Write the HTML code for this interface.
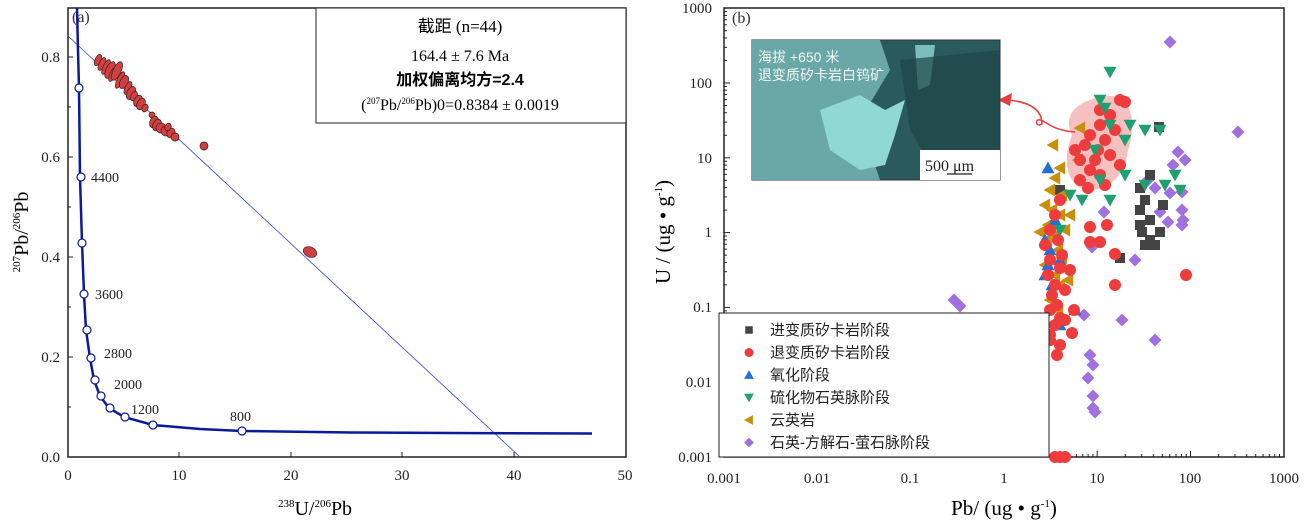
<!DOCTYPE html>
<html><head><meta charset="utf-8"><style>
body{margin:0;background:#fff;}
svg{display:block;font-family:"Liberation Serif","Noto Serif CJK SC",serif;}
.cj{font-family:"Liberation Sans","Noto Sans CJK SC",sans-serif;}
</style></head><body>
<svg id="s" width="1306" height="521" viewBox="0 0 1306 521" xmlns="http://www.w3.org/2000/svg">
<!-- Panel a -->
<rect x="68" y="8" width="558" height="449" fill="none" stroke="#222" stroke-width="1.5"/>
<line x1="68" y1="36" x2="520" y2="457" stroke="#3344cc" stroke-width="0.8"/>
<polyline fill="none" stroke="#0a1a9a" stroke-width="2.5" points="77,8 78,50 79,88 80,177 82,243 84,294 86,330 90,358 94,380 100,396 109,408 124,417 153,425 200,429 242,431 350,432.5 450,433 592,433.5"/>
<g fill="#fff" stroke="#0a1a9a" stroke-width="1.2">
<circle cx="79" cy="88" r="4"/><circle cx="81" cy="177" r="4"/><circle cx="82" cy="243" r="4"/><circle cx="84" cy="294" r="4"/><circle cx="87" cy="330" r="4"/><circle cx="91" cy="358" r="4"/><circle cx="95" cy="380" r="4"/><circle cx="101" cy="396" r="4"/><circle cx="110" cy="408" r="4"/><circle cx="125" cy="417" r="4"/><circle cx="153" cy="425" r="4"/><circle cx="242" cy="431" r="4"/>
</g>
<g font-size="14" fill="#222">
<text x="91" y="182">4400</text><text x="95" y="299">3600</text><text x="104" y="358">2800</text><text x="114" y="389">2000</text><text x="131" y="414">1200</text><text x="230" y="421">800</text>
</g>
<g id="ell" fill="#d04040" stroke="#402020" stroke-width="0.7"></g>
<text x="72" y="22" font-size="16" fill="#333">(a)</text>
<rect x="316" y="8" width="310" height="115" fill="#fff" stroke="#222" stroke-width="1"/>
<text x="460" y="32" font-size="17" text-anchor="middle"><tspan class="cj">截距</tspan> (n=44)</text>
<text x="460" y="61" font-size="16" text-anchor="middle">164.4 ± 7.6 Ma</text>
<text x="460" y="85" font-size="16" text-anchor="middle" class="cj" font-weight="bold">加权偏离均方=2.4</text>
<text x="460" y="110" font-size="16" text-anchor="middle">(<tspan font-size="9" dy="-6">207</tspan><tspan dy="6">Pb/</tspan><tspan font-size="9" dy="-6">206</tspan><tspan dy="6">Pb)0=0.8384 ± 0.0019</tspan></text>
<g font-size="15" fill="#222" text-anchor="end">
<text x="60" y="462">0.0</text><text x="60" y="362">0.2</text><text x="60" y="262">0.4</text><text x="60" y="162">0.6</text><text x="60" y="62">0.8</text>
</g>
<g stroke="#222" stroke-width="1">
<line x1="68" y1="357" x2="73" y2="357"/><line x1="68" y1="257" x2="73" y2="257"/><line x1="68" y1="157" x2="73" y2="157"/><line x1="68" y1="57" x2="73" y2="57"/>
<line x1="68" y1="407" x2="71" y2="407"/><line x1="68" y1="307" x2="71" y2="307"/><line x1="68" y1="207" x2="71" y2="207"/><line x1="68" y1="107" x2="71" y2="107"/>
<line x1="179" y1="457" x2="179" y2="452"/><line x1="291" y1="457" x2="291" y2="452"/><line x1="402" y1="457" x2="402" y2="452"/><line x1="514" y1="457" x2="514" y2="452"/>
</g>
<g font-size="15" fill="#222" text-anchor="middle">
<text x="68" y="480">0</text><text x="179" y="480">10</text><text x="291" y="480">20</text><text x="402" y="480">30</text><text x="514" y="480">40</text><text x="625" y="480">50</text>
</g>
<text x="315" y="515" font-size="20" text-anchor="middle"><tspan font-size="11" dy="-8">238</tspan><tspan dy="8">U/</tspan><tspan font-size="11" dy="-8">206</tspan><tspan dy="8">Pb</tspan></text>
<text transform="translate(28,232) rotate(-90)" font-size="20" text-anchor="middle"><tspan font-size="11" dy="-8">207</tspan><tspan dy="8">Pb/</tspan><tspan font-size="11" dy="-8">206</tspan><tspan dy="8">Pb</tspan></text>

<!-- Panel b -->
<rect x="724" y="8" width="560" height="449" fill="none" stroke="#222" stroke-width="1.5"/>
<g id="ticks" stroke="#222" stroke-width="1"></g>
<g font-size="15" fill="#222" text-anchor="end">
<text x="712" y="13">1000</text><text x="712" y="88">100</text><text x="712" y="163">10</text><text x="712" y="237">1</text><text x="712" y="312">0.1</text><text x="712" y="387">0.01</text><text x="712" y="462">0.001</text>
</g>
<g font-size="15" fill="#222" text-anchor="middle">
<text x="724" y="483">0.001</text><text x="817" y="483">0.01</text><text x="910" y="483">0.1</text><text x="1004" y="483">1</text><text x="1097" y="483">10</text><text x="1190" y="483">100</text><text x="1284" y="483">1000</text>
</g>
<text x="1004" y="515" font-size="21" text-anchor="middle">Pb/ (ug • g<tspan font-size="11" dy="-8">-1</tspan><tspan dy="8">)</tspan></text>
<text transform="translate(670,232) rotate(-90)" font-size="21" text-anchor="middle">U / (ug • g<tspan font-size="11" dy="-8">-1</tspan><tspan dy="8">)</tspan></text>
<text x="732" y="23" font-size="16" fill="#333">(b)</text>
<path d="M1072,135 C1060,110 1085,98 1110,96 C1135,95 1135,130 1128,150 C1125,175 1110,190 1090,190 C1070,190 1060,165 1072,135Z" fill="#f4b0b0" opacity="0.8"/>
<path d="M1075,132 C1050,130 1045,120 1040,120 C1035,118 1035,128 1042,124 C1042,110 1030,102 1008,100" fill="none" stroke="#e04040" stroke-width="1.5"/>
<polygon points="998,100 1012,93 1010,106" fill="#e04040"/>
<g id="pts"></g>
<rect x="752" y="40" width="248" height="140" fill="#2a5a5c" stroke="#333" stroke-width="1"/>
<path d="M752,40 L880,40 L890,70 L860,120 L880,180 L752,180Z" fill="#6aa8a8"/>
<path d="M820,110 L860,95 L885,110 L905,100 L895,135 L885,165 L860,170 L830,150Z" fill="#90d8d4"/>
<path d="M915,45 L935,45 L930,85 L918,90Z" fill="#90d8d4" opacity="0.8"/>
<path d="M900,60 L1000,50 L1000,180 L940,180 L910,130Z" fill="#1e4446" opacity="0.7"/>
<text x="758" y="62" font-size="14" fill="#f0f8f8" class="cj">海拔 +650 米</text>
<text x="758" y="80" font-size="14" fill="#f0f8f8" class="cj">退变质矽卡岩白钨矿</text>
<rect x="920" y="150" width="80" height="30" fill="#fff"/>
<text x="925" y="171" font-size="16" fill="#222">500 μm</text>
<line x1="947" y1="174" x2="972" y2="174" stroke="#222" stroke-width="1.2"/>
<rect x="719" y="313" width="330" height="144" fill="#fff" stroke="#222" stroke-width="1"/>
<g id="leg" class="cj" font-size="15" fill="#222"></g>
</svg>
<script>
var NS="http://www.w3.org/2000/svg";
function el(p,t,a){var e=document.createElementNS(NS,t);for(var k in a)e.setAttribute(k,a[k]);p.appendChild(e);return e;}
var E=document.getElementById("ell");
var ep=[[98,60,3,6],[102,64,3,7],[106,67,3,8],[110,70,4,9],[113,74,3,8],[117,71,4,10],[120,80,3,9],[124,82,4,7],[128,88,3,7],[131,93,4,7],[134,96,3,5],[138,101,4,6],[141,104,4,6],[145,108,3,4],[152,115,3,3],[154,122,4,6],[157,125,4,6],[161,128,5,5],[166,131,5,5],[171,133,4,5],[175,137,4,4],[168,127,3,4],[204,146,4,4],[310,252,7,5]];
ep.forEach(function(p){var x=p[0],y=p[1];el(E,"ellipse",{cx:x,cy:y,rx:p[2],ry:p[3],transform:"rotate(25 "+x+" "+y+")"});});
var T=document.getElementById("ticks");
for(var d=0;d<6;d++)for(var m=1;m<10;m++){var x=724+93.3*(d+Math.log10(m));var L=m==1?6:3;el(T,"line",{x1:x,y1:457,x2:x,y2:457-L});var y=457-74.8*(d+Math.log10(m));el(T,"line",{x1:724,y1:y,x2:724+L,y2:y});}
var P=document.getElementById("pts");
function mk(g,t,x,y,c){var s=6.5;var pts;
 if(t=="s")return el(g,"rect",{x:x-5,y:y-5,width:10,height:10,fill:c});
 if(t=="c")return el(g,"circle",{cx:x,cy:y,r:6,fill:c});
 if(t=="u")pts=[[x,y-s],[x+s,y+s*0.8],[x-s,y+s*0.8]];
 if(t=="d")pts=[[x,y+s],[x+s,y-s*0.8],[x-s,y-s*0.8]];
 if(t=="l")pts=[[x-s,y],[x+s*0.8,y-s],[x+s*0.8,y+s]];
 if(t=="m")pts=[[x,y-s],[x+s,y],[x,y+s],[x-s,y]];
 return el(g,"polygon",{points:pts.map(function(p){return p.join(",")}).join(" "),fill:c});}
var S={
m:["#a070e0",[[1170,42],[1238,132],[1178,152],[1173,165],[1148,180],[1155,188],[1170,193],[1182,210],[1160,212],[1168,222],[1183,220],[1182,225],[1104,212],[1135,260],[1084,315],[1155,340],[1122,320],[954,300],[960,306],[1090,355],[1093,365],[1088,378],[1093,396],[1093,408],[1095,412],[1182,192],[1185,160],[1092,247]]],
s:["#444",[[1159,127],[1060,190],[1150,175],[1140,188],[1145,200],[1140,210],[1163,205],[1150,220],[1140,225],[1150,240],[1145,245],[1120,258],[1155,245],[1160,232],[1142,232]]],
l:["#c8900a",[[1053,145],[1060,168],[1055,178],[1050,190],[1062,195],[1045,205],[1052,210],[1060,215],[1048,225],[1070,215],[1040,232],[1047,240],[1055,235],[1065,230],[1058,250],[1062,258],[1045,265],[1055,275],[1068,280],[1058,310],[1050,300],[1060,285],[1080,128],[1078,160]]],
u:["#2070d8",[[1048,168],[1055,220],[1045,240],[1050,250],[1060,260],[1048,265],[1045,275],[1052,285],[1075,310],[1060,325]]],
c:["#ee3c3c",[[1120,100],[1125,102],[1110,115],[1100,125],[1115,130],[1090,135],[1105,140],[1085,145],[1098,150],[1080,160],[1095,160],[1110,155],[1090,170],[1100,175],[1080,180],[1120,165],[1100,110],[1075,150],[1105,185],[1088,188],[1060,200],[1055,215],[1050,230],[1058,240],[1045,245],[1062,255],[1050,260],[1060,268],[1048,275],[1055,285],[1052,295],[1065,290],[1057,305],[1050,310],[1060,318],[1055,325],[1065,320],[1050,335],[1060,345],[1072,333],[1090,227],[1100,242],[1090,242],[1115,254],[1107,225],[1186,275],[1115,285],[1055,457],[1060,457],[1065,457],[1070,270],[1074,310],[1057,355],[1050,340]]],
d:["#20a070",[[1110,72],[1100,100],[1105,108],[1110,125],[1130,125],[1145,130],[1160,130],[1125,140],[1095,150],[1125,175],[1145,185],[1165,185],[1175,175],[1180,190],[1110,200],[1100,180],[1070,195],[1082,200],[1060,230]]]};
["m","s","l","u","c","d"].forEach(function(k){S[k][1].forEach(function(p){mk(P,k,p[0],p[1],S[k][0]);});});
var G=document.getElementById("leg");
var lg=[["s","#444","进变质矽卡岩阶段"],["c","#ee3c3c","退变质矽卡岩阶段"],["u","#2070d8","氧化阶段"],["d","#20a070","硫化物石英脉阶段"],["l","#c8900a","云英岩"],["m","#a070e0","石英-方解石-萤石脉阶段"]];
lg.forEach(function(r,i){var y=330+i*22.5;var e=mk(G,r[0],749,y,r[1]);e.setAttribute("transform","translate(749 "+y+") scale(0.75) translate(-749 "+(-y)+")");var t=el(G,"text",{x:770,y:y+5});t.textContent=r[2];});
</script>
</body></html>
